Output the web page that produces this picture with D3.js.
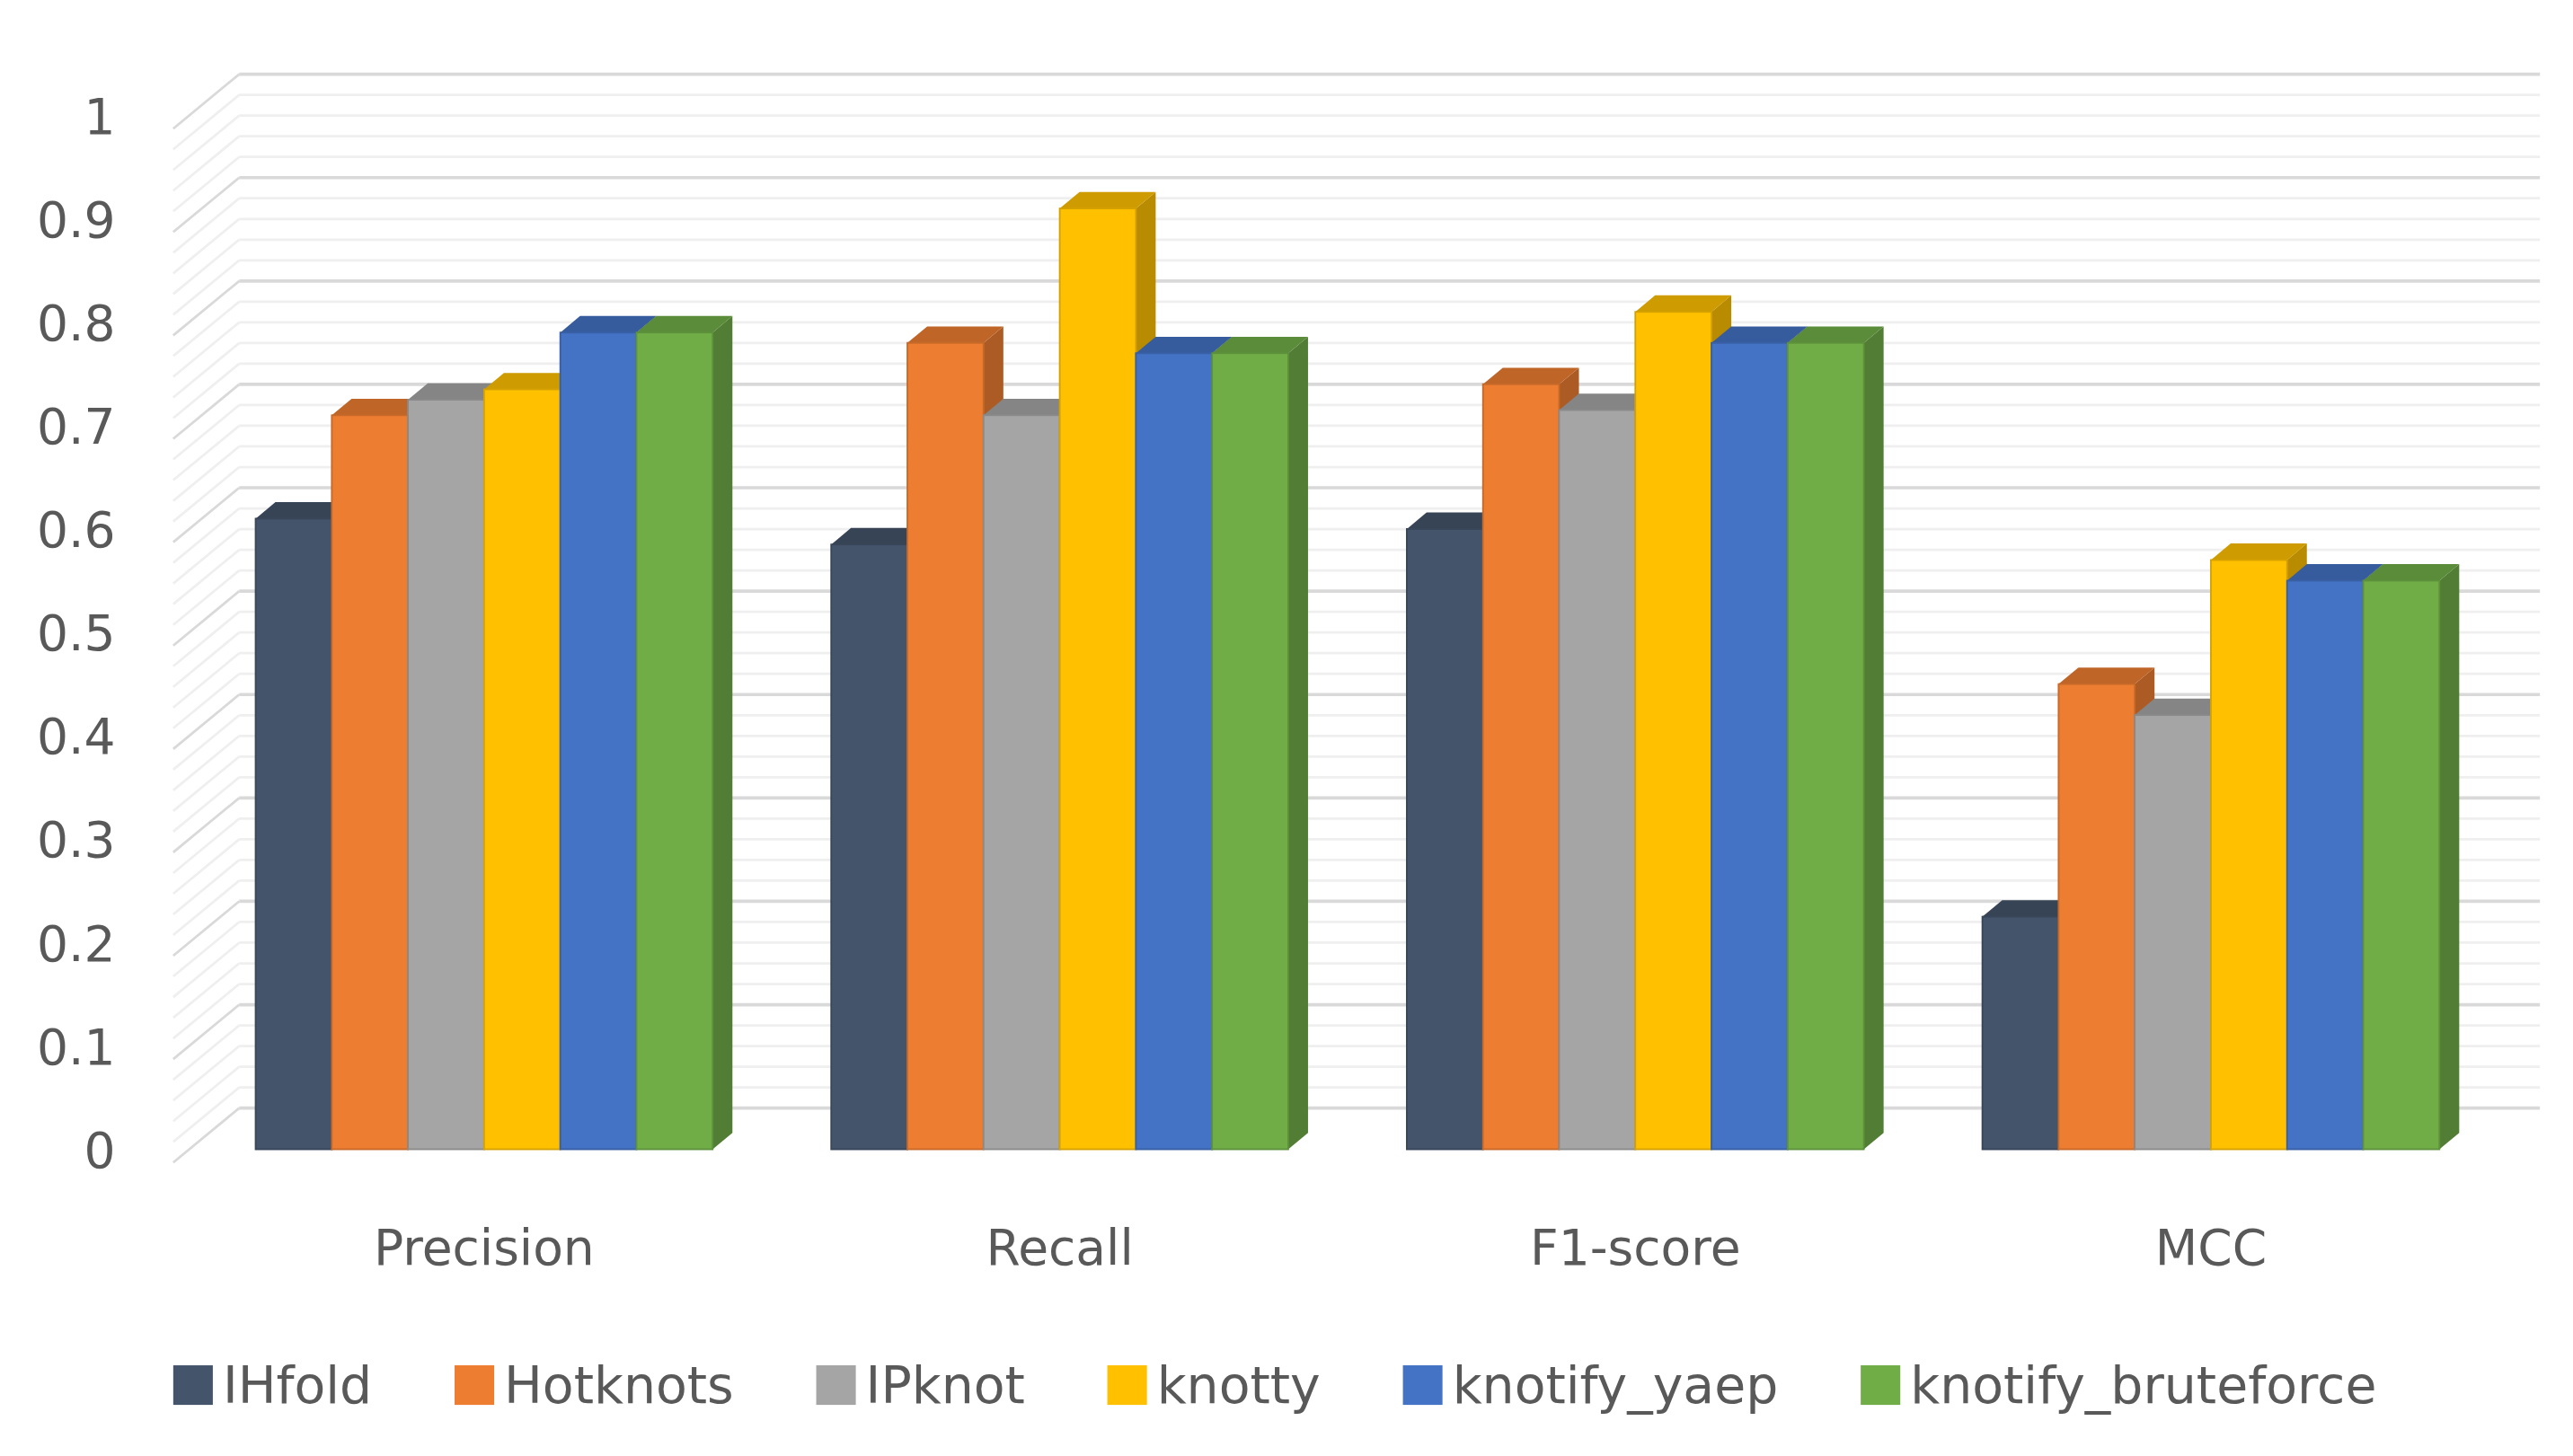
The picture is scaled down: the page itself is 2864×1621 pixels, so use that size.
<!DOCTYPE html>
<html><head><meta charset="utf-8">
<script src="https://cdn.jsdelivr.net/npm/d3@7"></script>
<style>body{margin:0;background:#fff}</style></head>
<body><div id="chart"></div>
<script>
// Data
const categories = ["Precision", "Recall", "F1-score", "MCC"];
const seriesNames = ["IHfold", "Hotknots", "IPknot", "knotty", "knotify_yaep", "knotify_bruteforce"];
const colors = ["#44546A", "#ED7D31", "#A5A5A5", "#FFC000", "#4472C4", "#70AD47"];
const values = [
  [0.61, 0.585, 0.60, 0.225],  // IHfold
  [0.71, 0.78, 0.74, 0.45],    // Hotknots
  [0.725, 0.71, 0.715, 0.42],  // IPknot
  [0.735, 0.91, 0.81, 0.57],   // knotty
  [0.79, 0.77, 0.78, 0.55],    // knotify_yaep
  [0.79, 0.77, 0.78, 0.55]     // knotify_bruteforce
];
const yTicks = [0, 0.1, 0.2, 0.3, 0.4, 0.5, 0.6, 0.7, 0.8, 0.9, 1];

const W = 1560, H = 883;
const svg = d3.select("#chart").append("svg")
  .attr("width", 2864).attr("height", 1621)
  .attr("viewBox", `0 0 ${W} ${H}`);

const wallDx = 40, wallDy = -25;   // back wall offset
const barDx = 12, barDy = -10;     // bar depth
const y = d3.scaleLinear().domain([0, 1]).range([697, 70]);
const x0 = d3.scaleBand().domain(categories).range([119, 1515]).paddingInner(0.206).paddingOuter(0.103);
const x1 = d3.scaleBand().domain(seriesNames).range([0, x0.bandwidth()]);

// Back wall gridlines (minor + major)
const minor = d3.range(0, 1.0001, 0.02);
const isMajor = d => Math.abs(d * 10 - Math.round(d * 10)) < 1e-6;
svg.append("g").selectAll("line").data(minor).join("line")
  .attr("x1", 105 + wallDx).attr("x2", 1540)
  .attr("y1", d => y(d) + wallDy).attr("y2", d => y(d) + wallDy)
  .attr("stroke", d => isMajor(d) ? "#d9d9d9" : "#efefef")
  .attr("stroke-width", d => isMajor(d) ? 2 : 1.5);
// Side wall diagonals
svg.append("g").selectAll("line").data(minor).join("line")
  .attr("x1", 105).attr("x2", 105 + wallDx)
  .attr("y1", d => y(d) + 8).attr("y2", d => y(d) + wallDy)
  .attr("stroke", d => isMajor(d) ? "#d9d9d9" : "#efefef")
  .attr("stroke-width", 1.5);

// Y axis labels
svg.append("g").selectAll("text").data(yTicks).join("text")
  .attr("x", 70).attr("y", d => y(d) + 11)
  .attr("text-anchor", "end")
  .attr("font-family", "'DejaVu Sans', Verdana, sans-serif").attr("font-size", 30)
  .attr("fill", "#595959")
  .text(d => d);

// Bars
const shade = (c, k) => d3.color(c).darker(k).toString();
categories.forEach((cat, ci) => {
  const g = svg.append("g");
  seriesNames.forEach((s, si) => {
    const v = values[si][ci];
    const bx = x0(cat) + x1(s), bw = x1.bandwidth(), top = y(v), bot = y(0);
    const c = colors[si];
    // side
    g.append("path")
      .attr("d", `M${bx + bw},${bot}L${bx + bw + barDx},${bot + barDy}L${bx + bw + barDx},${top + barDy}L${bx + bw},${top}Z`)
      .attr("fill", shade(c, 0.9));
    // top
    g.append("path")
      .attr("d", `M${bx},${top}L${bx + barDx},${top + barDy}L${bx + bw + barDx},${top + barDy}L${bx + bw},${top}Z`)
      .attr("fill", shade(c, 0.6));
    // front
    g.append("rect").attr("x", bx).attr("y", top).attr("width", bw).attr("height", bot - top)
      .attr("fill", c).attr("stroke", shade(c, 0.5)).attr("stroke-width", 1);
  });
});

// Category labels
svg.append("g").selectAll("text").data(categories).join("text")
  .attr("x", d => x0(d) + x0.bandwidth() / 2).attr("y", 767)
  .attr("text-anchor", "middle")
  .attr("font-family", "'DejaVu Sans', Verdana, sans-serif").attr("font-size", 30)
  .attr("fill", "#595959")
  .text(d => d);

// Legend
let lx = 105;
seriesNames.forEach((s, i) => {
  svg.append("rect").attr("x", lx).attr("y", 828).attr("width", 24).attr("height", 24).attr("fill", colors[i]);
  const t = svg.append("text").attr("x", lx + 30).attr("y", 851)
    .attr("font-family", "'DejaVu Sans', Verdana, sans-serif").attr("font-size", 31)
    .attr("fill", "#595959").text(s);
  lx += 30 + t.node().getComputedTextLength() + 50;
});
</script></body></html>
